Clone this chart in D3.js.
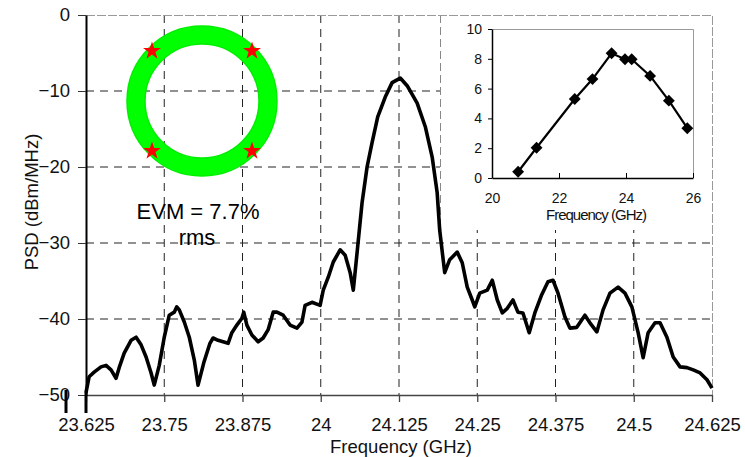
<!DOCTYPE html>
<html lang="en">
<head>
<meta charset="UTF-8">
<title>PSD spectrum</title>
<script src="https://cdn.jsdelivr.net/npm/d3@7"></script>
<style>
    body { margin: 0; background: #fff; }
    svg { font-family: "Liberation Sans", Arial, sans-serif; display: block; }
</style>
</head>
<body>
<div id="chart"></div>
<script>
const psdFreq = [23.625, 23.630, 23.638, 23.649, 23.657, 23.665, 23.673, 23.678, 23.686, 23.697,
    23.705, 23.713, 23.721, 23.729, 23.734, 23.742, 23.750, 23.758, 23.766, 23.770,
    23.774, 23.782, 23.790, 23.798, 23.804, 23.813, 23.823, 23.828, 23.836, 23.844,
    23.852, 23.858, 23.866, 23.874, 23.877, 23.882, 23.890, 23.900, 23.908, 23.916,
    23.924, 23.930, 23.940, 23.951, 23.962, 23.970, 23.975, 23.986, 23.999, 24.004,
    24.012, 24.020, 24.031, 24.039, 24.047, 24.052, 24.058, 24.066, 24.074, 24.082,
    24.091, 24.103, 24.114, 24.127, 24.138, 24.154, 24.167, 24.178, 24.186, 24.190,
    24.198, 24.206, 24.218, 24.226, 24.234, 24.242, 24.246, 24.254, 24.266, 24.274,
    24.282, 24.290, 24.298, 24.307, 24.315, 24.323, 24.333, 24.342, 24.353, 24.363,
    24.371, 24.379, 24.390, 24.398, 24.409, 24.422, 24.430, 24.441, 24.451, 24.462,
    24.475, 24.486, 24.497, 24.507, 24.515, 24.523, 24.534, 24.542, 24.553, 24.563,
    24.574, 24.585, 24.595, 24.606, 24.617, 24.625];
const psdLevel = [-49.7, -47.6, -47.0, -46.3, -46.1, -46.7, -47.8, -46.4, -44.5, -42.8,
    -42.4, -43.4, -45.0, -47.1, -48.7, -46.1, -42.4, -39.5, -39.1, -38.4,
    -38.8, -40.4, -42.4, -45.4, -48.7, -45.8, -43.2, -42.5, -42.8, -43.0,
    -43.2, -41.8, -40.8, -39.9, -39.1, -40.8, -42.1, -43.0, -42.5, -41.4,
    -39.1, -39.1, -39.5, -40.8, -41.2, -40.4, -38.2, -37.8, -38.2, -36.2,
    -34.5, -32.5, -30.9, -31.6, -33.9, -36.2, -31.3, -24.7, -20.0, -16.8,
    -13.4, -10.8, -8.9, -8.3, -9.3, -11.6, -14.7, -18.7, -23.4, -28.3,
    -33.9, -32.2, -31.2, -32.6, -35.8, -37.5, -38.4, -36.6, -36.2, -34.9,
    -37.5, -39.2, -38.6, -37.5, -39.1, -39.2, -41.8, -39.2, -36.8, -35.1,
    -34.9, -36.6, -39.7, -41.2, -41.1, -39.5, -40.5, -41.7, -38.8, -36.6,
    -35.8, -36.6, -38.4, -41.8, -45.1, -41.8, -40.5, -40.5, -42.4, -45.0,
    -46.3, -46.4, -46.7, -47.1, -48.0, -49.1];

const xTicks = [23.625, 23.75, 23.875, 24, 24.125, 24.25, 24.375, 24.5, 24.625];
const xTickLabels = ["23.625", "23.75", "23.875", "24", "24.125", "24.25", "24.375", "24.5", "24.625"];
const yTicks = [-50, -40, -30, -20, -10, 0];

// inset: output power vs frequency
const insetFreq = [20.78, 21.33, 22.47, 23.0, 23.57, 23.97, 24.17, 24.72, 25.28, 25.83];
const insetValue = [0.42, 2.03, 5.3, 6.64, 8.37, 7.97, 7.97, 6.85, 5.19, 3.34];
const insetXTicks = [20, 22, 24, 26];
const insetYTicks = [0, 2, 4, 6, 8, 10];

// constellation (normalised I/Q)
const symbolI = [-1, 1, -1, 1];
const symbolQ = [1, 1, -1, -1];
const ringRadius = [1.14, 1.5];

const W = 745, H = 457;
const svg = d3.select("#chart").append("svg").attr("width", W).attr("height", H);

const x = d3.scaleLinear().domain([23.625, 24.625]).range([86, 712]);
const y = d3.scaleLinear().domain([-50, 0]).range([395, 15]);

// grid
const grid = svg.append("g");
grid.selectAll("line.v").data(xTicks.slice(1, -1)).enter().append("line")
    .attr("x1", d => x(d)).attr("x2", d => x(d))
    .attr("y1", y(0)).attr("y2", y(-50))
    .attr("stroke", "#222").attr("stroke-dasharray", "8,6");
grid.selectAll("line.h").data(yTicks.slice(1, -1)).enter().append("line")
    .attr("x1", x(23.625)).attr("x2", x(24.625))
    .attr("y1", d => y(d)).attr("y2", d => y(d))
    .attr("stroke", "#222").attr("stroke-dasharray", "8,6");

// inset background
svg.append("rect").attr("x", 440).attr("y", 15).attr("width", 272).attr("height", 215)
    .attr("fill", "#fff");
svg.append("line").attr("x1", 440.5).attr("x2", 440.5).attr("y1", 15).attr("y2", 230)
    .attr("stroke", "#888").attr("stroke-dasharray", "8,4");

// frame top / right
svg.append("path")
    .attr("d", `M${x(23.625)},${y(0) + 0.5}H${x(24.625) + 0.5}V${y(-50)}`)
    .attr("fill", "none").attr("stroke", "#999").attr("stroke-dasharray", "9,2");

// constellation
const cx = 202, cy = 101;
const iq = d3.scaleLinear().domain([-1, 1]).range([-50, 50]);
const con = svg.append("g").attr("transform", `translate(${cx},${cy})`);
con.append("path")
    .attr("d", d3.arc().innerRadius(iq(ringRadius[0])).outerRadius(iq(ringRadius[1]))
        .startAngle(0).endAngle(2 * Math.PI)())
    .attr("fill", "#00ff00").attr("stroke", "#00ee00").attr("stroke-width", 1.5);
con.selectAll("path.sym").data(symbolI).enter().append("path")
    .attr("class", "sym")
    .attr("transform", (d, i) => `translate(${iq(d)},${-iq(symbolQ[i])})`)
    .attr("d", d3.symbol().type(d3.symbolStar).size(100)())
    .attr("fill", "#ff0000");

svg.append("text").attr("x", 198).attr("y", 219).attr("text-anchor", "middle")
    .attr("font-size", 22).text("EVM = 7.7%");
svg.append("text").attr("x", 197).attr("y", 245).attr("text-anchor", "middle")
    .attr("font-size", 22).text("rms");

// spectrum trace
const line = d3.line().x((d, i) => x(psdFreq[i])).y(d => y(d));
svg.append("path").datum(psdLevel)
    .attr("d", line)
    .attr("fill", "none").attr("stroke", "#000").attr("stroke-width", 3.6)
    .attr("stroke-linejoin", "round");

// axes
const xAxis = svg.append("g").attr("transform", `translate(0,${y(-50)})`)
    .call(d3.axisBottom(x).tickValues(xTicks).tickFormat((d, i) => xTickLabels[i])
        .tickSize(7).tickSizeOuter(0).tickPadding(16));
xAxis.select(".domain").attr("stroke", "#444").attr("stroke-width", 1.5);
xAxis.selectAll(".tick line").attr("stroke", "#444").attr("stroke-width", 1.3);
xAxis.selectAll("text").attr("font-size", 18.5).attr("fill", "#111").attr("font-family", null);

const yAxis = svg.append("g").attr("transform", `translate(${x(23.625)},0)`)
    .call(d3.axisLeft(y).tickValues(yTicks).tickFormat(d3.format("d"))
        .tickSize(8).tickSizeOuter(0).tickPadding(8));
yAxis.select(".domain").attr("stroke", "#000").attr("stroke-width", 2);
yAxis.selectAll(".tick line").attr("stroke", "#333");
yAxis.selectAll("text").attr("font-size", 18.5).attr("fill", "#111").attr("font-family", null);

// stray heavy marks below the origin
svg.append("line").attr("x1", 66).attr("x2", 66).attr("y1", 390).attr("y2", 413)
    .attr("stroke", "#000").attr("stroke-width", 3);
svg.append("line").attr("x1", 86).attr("x2", 86).attr("y1", 392).attr("y2", 413)
    .attr("stroke", "#000").attr("stroke-width", 3);

svg.append("text").attr("x", 401).attr("y", 453).attr("text-anchor", "middle")
    .attr("font-size", 18.5).attr("fill", "#111").text("Frequency (GHz)");
svg.append("text").attr("transform", "translate(38,202) rotate(-90)")
    .attr("text-anchor", "middle").attr("font-size", 18.5).attr("fill", "#111")
    .text("PSD (dBm/MHz)");

// inset chart
const ix = d3.scaleLinear().domain([20, 26]).range([492, 693]);
const iy = d3.scaleLinear().domain([0, 10]).range([178, 29]);
const inset = svg.append("g");
inset.append("path")
    .attr("d", `M${ix(20)},${iy(10) + 0.5}H${ix(26) + 0.5}V${iy(0)}`)
    .attr("fill", "none").attr("stroke", "#999");

const ixAxis = inset.append("g").attr("transform", `translate(0,${iy(0)})`)
    .call(d3.axisBottom(ix).tickValues(insetXTicks).tickFormat(d3.format("d"))
        .tickSize(-5).tickSizeOuter(0).tickPadding(15));
const iyAxis = inset.append("g").attr("transform", `translate(${ix(20)},0)`)
    .call(d3.axisLeft(iy).tickValues(insetYTicks).tickFormat(d3.format("d"))
        .tickSize(4).tickSizeOuter(0).tickPadding(6));
[ixAxis, iyAxis].forEach(a => {
    a.select(".domain").attr("stroke", "#000").attr("stroke-width", 1.5);
    a.selectAll(".tick line").attr("stroke", "#000");
    a.selectAll("text").attr("font-size", 14).attr("fill", "#111").attr("font-family", null);
});

const iline = d3.line().x((d, i) => ix(insetFreq[i])).y(d => iy(d));
inset.append("path").datum(insetValue).attr("d", iline)
    .attr("fill", "none").attr("stroke", "#000").attr("stroke-width", 2.2);
inset.selectAll("path.pt").data(insetValue).enter().append("path")
    .attr("class", "pt")
    .attr("transform", (d, i) => `translate(${ix(insetFreq[i])},${iy(d)}) rotate(45)`)
    .attr("d", d3.symbol().type(d3.symbolSquare).size(70)())
    .attr("fill", "#000");

inset.append("text").attr("x", 596).attr("y", 220).attr("text-anchor", "middle")
    .attr("font-size", 15).attr("letter-spacing", -1).attr("fill", "#111")
    .text("Frequency (GHz)");
</script>
</body>
</html>
